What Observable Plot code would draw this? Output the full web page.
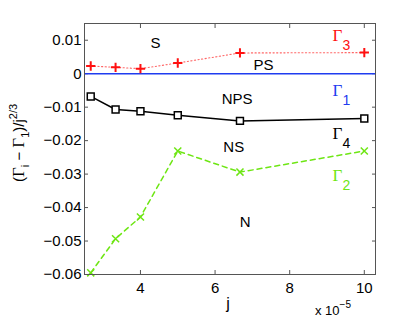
<!DOCTYPE html>
<html><head><meta charset="utf-8">
<script src="https://cdn.jsdelivr.net/npm/d3@7"></script>
<script src="https://cdn.jsdelivr.net/npm/@observablehq/plot@0.6"></script>
<style>body{margin:0;background:#fff} svg{display:block}</style>
</head><body><div id="chart"></div>
<script>
const j = [2.667, 3.333, 4, 5, 6.667, 10];
const gamma3 = [0.0023, 0.0019, 0.0015, 0.0032, 0.0062, 0.0063];
const gamma1 = [0];
const gamma4 = [-0.0068, -0.0107, -0.0112, -0.0124, -0.0141, -0.0134];
const gamma2 = [-0.0595, -0.0493, -0.0428, -0.0231, -0.0294, -0.0231];
const xTicks = [4, 6, 8, 10];
const yTicks = [0.01, 0, -0.01, -0.02, -0.03, -0.04, -0.05, -0.06];
const regionLabels = ["S", "PS", "NPS", "NS", "N"];
const regionX = [4.4, 7.3, 6.59, 6.5, 6.81];
const regionY = [0.009, 0.0025, -0.0075, -0.0219, -0.0443];
const seriesSubs = ["3", "1", "4", "2"];
const seriesLabelX = [9.28, 9.28, 9.28, 9.28];
const seriesLabelY = [0.0114, -0.005, -0.0178, -0.0304];
const seriesColors = ["#ff1010", "#1f3cf0", "#000000", "#6ee614"];

const pts = (ys) => j.map((x, i) => ({x, y: ys[i]}));
const regions = regionLabels.map((t, i) => ({t, x: regionX[i], y: regionY[i]}));
const sLabels = seriesSubs.map((s, i) => ({s, x: seriesLabelX[i], y: seriesLabelY[i], c: seriesColors[i]}));
const fmtY = v => v === 0 ? "0" : (v < 0 ? "\u2212" : "") + Math.abs(v).toFixed(2);

const font = "Liberation Sans, Arial, sans-serif";
const plot = Plot.plot({
  width: 415, height: 318,
  marginLeft: 84, marginRight: 40, marginTop: 23, marginBottom: 44,
  style: {fontFamily: font, fontSize: "15px", background: "#fff", color: "#000"},
  x: {domain: [2.5, 10.3]},
  y: {domain: [-0.06, 0.015]},
  marks: [
    Plot.axisX({ticks: xTicks, tickSize: 0, tickPadding: 8, fontSize: 15, label: null}),
    Plot.axisX({ticks: xTicks, tickSize: -4, tickFormat: () => "", stroke: "#555", label: null}),
    Plot.axisX({ticks: xTicks, anchor: "top", tickSize: -4, tickFormat: () => "", stroke: "#555", label: null}),
    Plot.axisY({ticks: yTicks, tickSize: 0, tickPadding: 3, tickFormat: fmtY, fontSize: 15, label: null}),
    Plot.axisY({ticks: yTicks, tickSize: -4, tickFormat: () => "", stroke: "#555", label: null}),
    Plot.axisY({ticks: yTicks, anchor: "right", tickSize: -4, tickFormat: () => "", stroke: "#555", label: null}),
    Plot.ruleY(gamma1, {y: d => d, stroke: seriesColors[1], strokeWidth: 1.5}),
    Plot.line(pts(gamma3), {x: "x", y: "y", stroke: "#ff4040", strokeOpacity: 0.8, strokeWidth: 1.1, strokeDasharray: "1.2,2.4"}),
    Plot.dot(pts(gamma3), {x: "x", y: "y", symbol: "plus", r: 3.1, stroke: seriesColors[0], strokeWidth: 2}),
    Plot.line(pts(gamma4), {x: "x", y: "y", stroke: "#000", strokeWidth: 1.5}),
    Plot.dot(pts(gamma4), {x: "x", y: "y", symbol: "square2", r: 4.4, stroke: "#000", fill: "#fff", strokeWidth: 1.5}),
    Plot.line(pts(gamma2), {x: "x", y: "y", stroke: seriesColors[3], strokeWidth: 1.5, strokeDasharray: "5,4"}),
    Plot.dot(pts(gamma2), {x: "x", y: "y", symbol: "times", r: 3.3, stroke: seriesColors[3], strokeWidth: 1.5}),
    Plot.text(regions, {x: "x", y: "y", text: "t", fontSize: 15, fill: "#000"}),
    Plot.text(sLabels, {x: "x", y: "y", text: () => "\u0393", fill: "c", fontSize: 17, fontFamily: "Liberation Serif, Times New Roman, serif"}),
    Plot.text(sLabels, {x: "x", y: "y", text: "s", fill: "c", fontSize: 14, dx: 9, dy: 10}),
    Plot.frame({stroke: "#555", strokeWidth: 1})
  ]
});
document.getElementById("chart").appendChild(plot);

const svg = d3.select(plot);
const yl = svg.append("text")
  .attr("transform", "translate(24,143) rotate(-90)")
  .attr("text-anchor", "middle")
  .attr("font-family", font).attr("font-size", 15).attr("fill", "#000");
yl.append("tspan").text("(");
yl.append("tspan").attr("font-family", "Liberation Serif, Times New Roman, serif").attr("font-size", 17).text("\u0393");
yl.append("tspan").attr("font-size", 11).attr("dy", 5).text("i");
yl.append("tspan").attr("dy", -5).text(" \u2212 ");
yl.append("tspan").attr("font-family", "Liberation Serif, Times New Roman, serif").attr("font-size", 17).text("\u0393");
yl.append("tspan").attr("font-size", 11).attr("dy", 5).text("1");
yl.append("tspan").attr("dy", -5).text(")/j");
yl.append("tspan").attr("font-size", 11).attr("dy", -7).text("2/3");
svg.append("text").attr("x", 228).attr("y", 309).attr("text-anchor", "middle")
  .attr("font-family", font).attr("font-size", 16).attr("fill", "#000").text("j");
const xm = svg.append("text").attr("x", 333).attr("y", 315)
  .attr("font-family", font).attr("font-size", 13).attr("fill", "#000");
xm.append("tspan").text("x 10");
xm.append("tspan").attr("font-size", 10).attr("dy", -7).text("\u22125");
</script>
</body></html>
